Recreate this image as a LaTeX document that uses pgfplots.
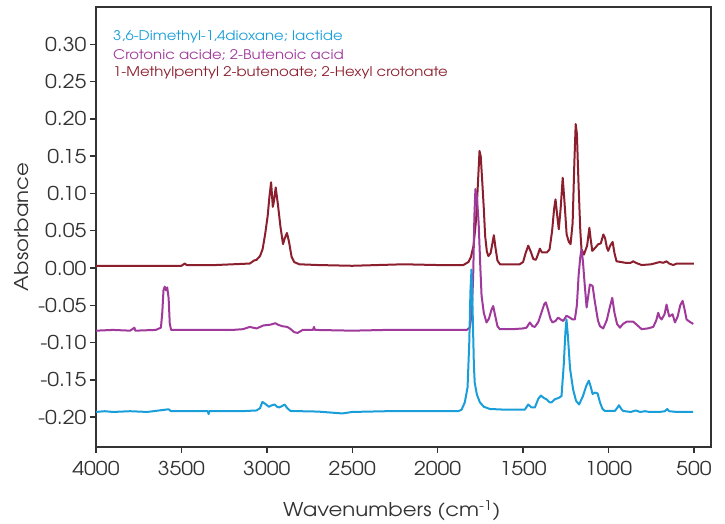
\documentclass[border=0pt]{standalone}
\usepackage{fontspec}
\setmainfont{TeX Gyre Adventor}[FakeStretch=1.12]
\usepackage{pgfplots}
\pgfplotsset{compat=1.18}
\definecolor{cblue}{HTML}{1A9ED9}
\definecolor{cpurple}{HTML}{A0399C}
\definecolor{cred}{HTML}{8C1F2D}
\definecolor{frame}{HTML}{333333}
\begin{document}
\begin{tikzpicture}
\path[use as bounding box] (-96pt,-76pt) rectangle (629pt,447pt);
\begin{axis}[
  at={(0,0)}, anchor=south west,
  scale only axis, width=615pt, height=440pt,
  x dir=reverse, xmin=400, xmax=4000,
  ymin=-0.24, ymax=0.35,
  xtick={500,1000,...,4000},
  ytick={-0.20,-0.15,...,0.31},
  tick align=outside, tick pos=left,
  major tick length=6pt,
  axis line style={frame, line width=1.6pt},
  every tick/.style={frame, line width=1.4pt},
  /pgf/number format/assume math mode=true,
  yticklabel style={/pgf/number format/fixed, /pgf/number format/fixed zerofill, /pgf/number format/precision=2},
  xticklabel style={/pgf/number format/1000 sep={}, yshift=-5pt},
  tick label style={font=\fontsize{19}{22}\selectfont, text=frame},
  label style={font=\fontsize{19}{22}\selectfont, text=frame},
  xlabel={Wavenumbers (cm\textsuperscript{-1})},
  ylabel={Absorbance},
  xlabel style={at={(axis description cs:0.481,-0.145)}, anchor=center},
  ylabel style={at={(axis description cs:-0.121,0.5)}, anchor=center, rotate=0},
  scaled y ticks=false,
]
\addplot[cred, line width=2pt, line join=round] coordinates {
(4000,0.003)(3800,0.003)(3500,0.003)(3480,0.006)(3470,0.004)(3300,0.004)(3100,0.006)
(3075,0.010)(3060,0.011)(3040,0.016)(3025,0.025)(3010,0.045)(2995,0.070)(2985,0.095)
(2975,0.115)(2965,0.082)(2958,0.090)(2948,0.108)(2935,0.085)(2920,0.055)(2905,0.032)
(2895,0.040)(2882,0.047)(2870,0.035)(2855,0.015)(2840,0.008)(2810,0.005)(2700,0.004)
(2500,0.003)(2200,0.005)(2000,0.004)(1850,0.004)(1820,0.008)(1805,0.015)(1790,0.030)
(1775,0.065)(1765,0.110)(1755,0.157)(1748,0.150)(1740,0.120)(1730,0.080)(1722,0.043)
(1712,0.022)(1703,0.016)(1690,0.020)(1678,0.035)(1671,0.044)(1662,0.028)(1650,0.010)
(1635,0.005)(1520,0.005)(1500,0.008)(1485,0.020)(1470,0.030)(1455,0.022)(1440,0.012)
(1425,0.011)(1410,0.020)(1402,0.026)(1390,0.021)(1375,0.021)(1360,0.021)(1345,0.025)
(1330,0.050)(1318,0.080)(1310,0.092)(1300,0.070)(1291,0.052)(1280,0.080)(1268,0.121)
(1258,0.090)(1245,0.045)(1232,0.035)(1222,0.032)(1210,0.060)(1200,0.140)(1192,0.193)
(1185,0.180)(1175,0.110)(1165,0.050)(1158,0.025)(1144,0.018)(1125,0.030)(1112,0.054)
(1105,0.040)(1095,0.023)(1078,0.027)(1060,0.032)(1045,0.033)(1030,0.045)(1020,0.040)
(1010,0.028)(1002,0.023)(990,0.030)(976,0.035)(965,0.020)(953,0.009)(900,0.007)
(870,0.007)(855,0.009)(840,0.007)(806,0.004)(750,0.005)(700,0.008)(680,0.007)
(660,0.009)(645,0.006)(621,0.004)(600,0.006)(500,0.006)
};
\addplot[cpurple, line width=2pt, line join=round] coordinates {
(4000,-0.084)(3900,-0.083)(3800,-0.084)(3775,-0.080)(3770,-0.084)(3650,-0.083)
(3620,-0.080)(3612,-0.060)(3605,-0.030)(3598,-0.025)(3590,-0.030)(3583,-0.026)
(3575,-0.040)(3568,-0.075)(3560,-0.083)(3400,-0.083)(3200,-0.083)(3140,-0.082)
(3100,-0.079)(3060,-0.081)(3020,-0.077)(2980,-0.076)(2950,-0.074)(2935,-0.076)
(2910,-0.078)(2880,-0.079)(2860,-0.082)(2840,-0.086)(2820,-0.087)(2790,-0.083)
(2730,-0.083)(2724,-0.079)(2718,-0.083)(2500,-0.084)(2300,-0.083)(2100,-0.083)
(1900,-0.083)(1830,-0.083)(1812,-0.080)(1800,-0.060)(1792,-0.010)(1785,0.070)
(1779,0.106)(1770,0.095)(1760,0.060)(1750,0.000)(1743,-0.037)(1730,-0.060)
(1714,-0.073)(1700,-0.068)(1685,-0.056)(1675,-0.051)(1665,-0.062)(1650,-0.078)
(1636,-0.082)(1560,-0.082)(1500,-0.081)(1480,-0.080)(1460,-0.073)(1445,-0.078)
(1431,-0.079)(1410,-0.072)(1390,-0.058)(1375,-0.048)(1367,-0.046)(1355,-0.055)
(1340,-0.068)(1328,-0.073)(1310,-0.071)(1295,-0.0665)(1280,-0.069)(1265,-0.071)
(1246,-0.064)(1230,-0.066)(1210,-0.069)(1197,-0.069)(1185,-0.050)(1175,-0.010)
(1165,0.015)(1158,0.025)(1150,0.010)(1140,-0.020)(1128,-0.053)(1120,-0.040)
(1109,-0.022)(1093,-0.024)(1080,-0.045)(1062,-0.070)(1050,-0.078)(1031,-0.081)
(1010,-0.070)(995,-0.055)(978,-0.040)(965,-0.060)(950,-0.075)(933,-0.080)
(915,-0.075)(894,-0.072)(870,-0.072)(855,-0.072)(835,-0.076)(806,-0.082)
(770,-0.081)(738,-0.079)(720,-0.070)(709,-0.060)(700,-0.066)(689,-0.069)
(672,-0.062)(660,-0.049)(650,-0.060)(644,-0.065)(625,-0.062)(611,-0.073)
(595,-0.065)(580,-0.050)(566,-0.044)(555,-0.055)(543,-0.069)(525,-0.072)(504,-0.075)
};
\addplot[cblue, line width=2pt, line join=round] coordinates {
(4000,-0.193)(3950,-0.192)(3900,-0.193)(3800,-0.192)(3700,-0.193)(3575,-0.1894)
(3560,-0.192)(3400,-0.192)(3345,-0.192)(3341,-0.196)(3337,-0.192)(3150,-0.192)
(3060,-0.191)(3040,-0.188)(3026,-0.1796)(3010,-0.182)(2988,-0.186)(2970,-0.184)
(2954,-0.183)(2940,-0.186)(2929,-0.187)(2910,-0.185)(2896,-0.183)(2880,-0.188)
(2861,-0.1917)(2700,-0.1925)(2558,-0.195)(2500,-0.193)(2300,-0.192)(2000,-0.192)
(1880,-0.192)(1860,-0.190)(1841,-0.180)(1825,-0.160)(1815,-0.100)(1808,-0.030)
(1802,-0.002)(1795,-0.060)(1788,-0.130)(1783,-0.154)(1770,-0.170)(1753,-0.180)
(1730,-0.186)(1695,-0.189)(1600,-0.190)(1550,-0.190)(1490,-0.190)(1470,-0.183)
(1450,-0.187)(1431,-0.187)(1410,-0.175)(1396,-0.171)(1380,-0.174)(1363,-0.176)
(1345,-0.180)(1333,-0.180)(1314,-0.176)(1290,-0.174)(1275,-0.1716)(1262,-0.130)
(1252,-0.085)(1246,-0.069)(1238,-0.090)(1225,-0.135)(1207,-0.163)(1190,-0.178)
(1172,-0.183)(1150,-0.172)(1130,-0.158)(1115,-0.151)(1103,-0.160)(1093,-0.169)
(1080,-0.167)(1064,-0.168)(1050,-0.180)(1035,-0.189)(1021,-0.1917)(963,-0.1917)
(950,-0.188)(939,-0.184)(925,-0.189)(914,-0.1917)(870,-0.193)(840,-0.191)
(815,-0.193)(786,-0.192)(760,-0.193)(700,-0.193)(670,-0.192)(656,-0.189)
(645,-0.192)(600,-0.193)(504,-0.193)
};
\node[anchor=west, inner sep=0pt, text=cblue, font=\fontsize{13.3}{16}\selectfont] at (rel axis cs:0.0276,0.932) {3,6-Dimethyl-1,4dioxane; lactide};
\node[anchor=west, inner sep=0pt, text=cpurple, font=\fontsize{13.3}{16}\selectfont] at (rel axis cs:0.0276,0.892) {Crotonic acide; 2-Butenoic acid};
\node[anchor=west, inner sep=0pt, text=cred, font=\fontsize{13.3}{16}\selectfont] at (rel axis cs:0.0276,0.851) {1-Methylpentyl 2-butenoate; 2-Hexyl crotonate};
\end{axis}
\end{tikzpicture}
\end{document}
